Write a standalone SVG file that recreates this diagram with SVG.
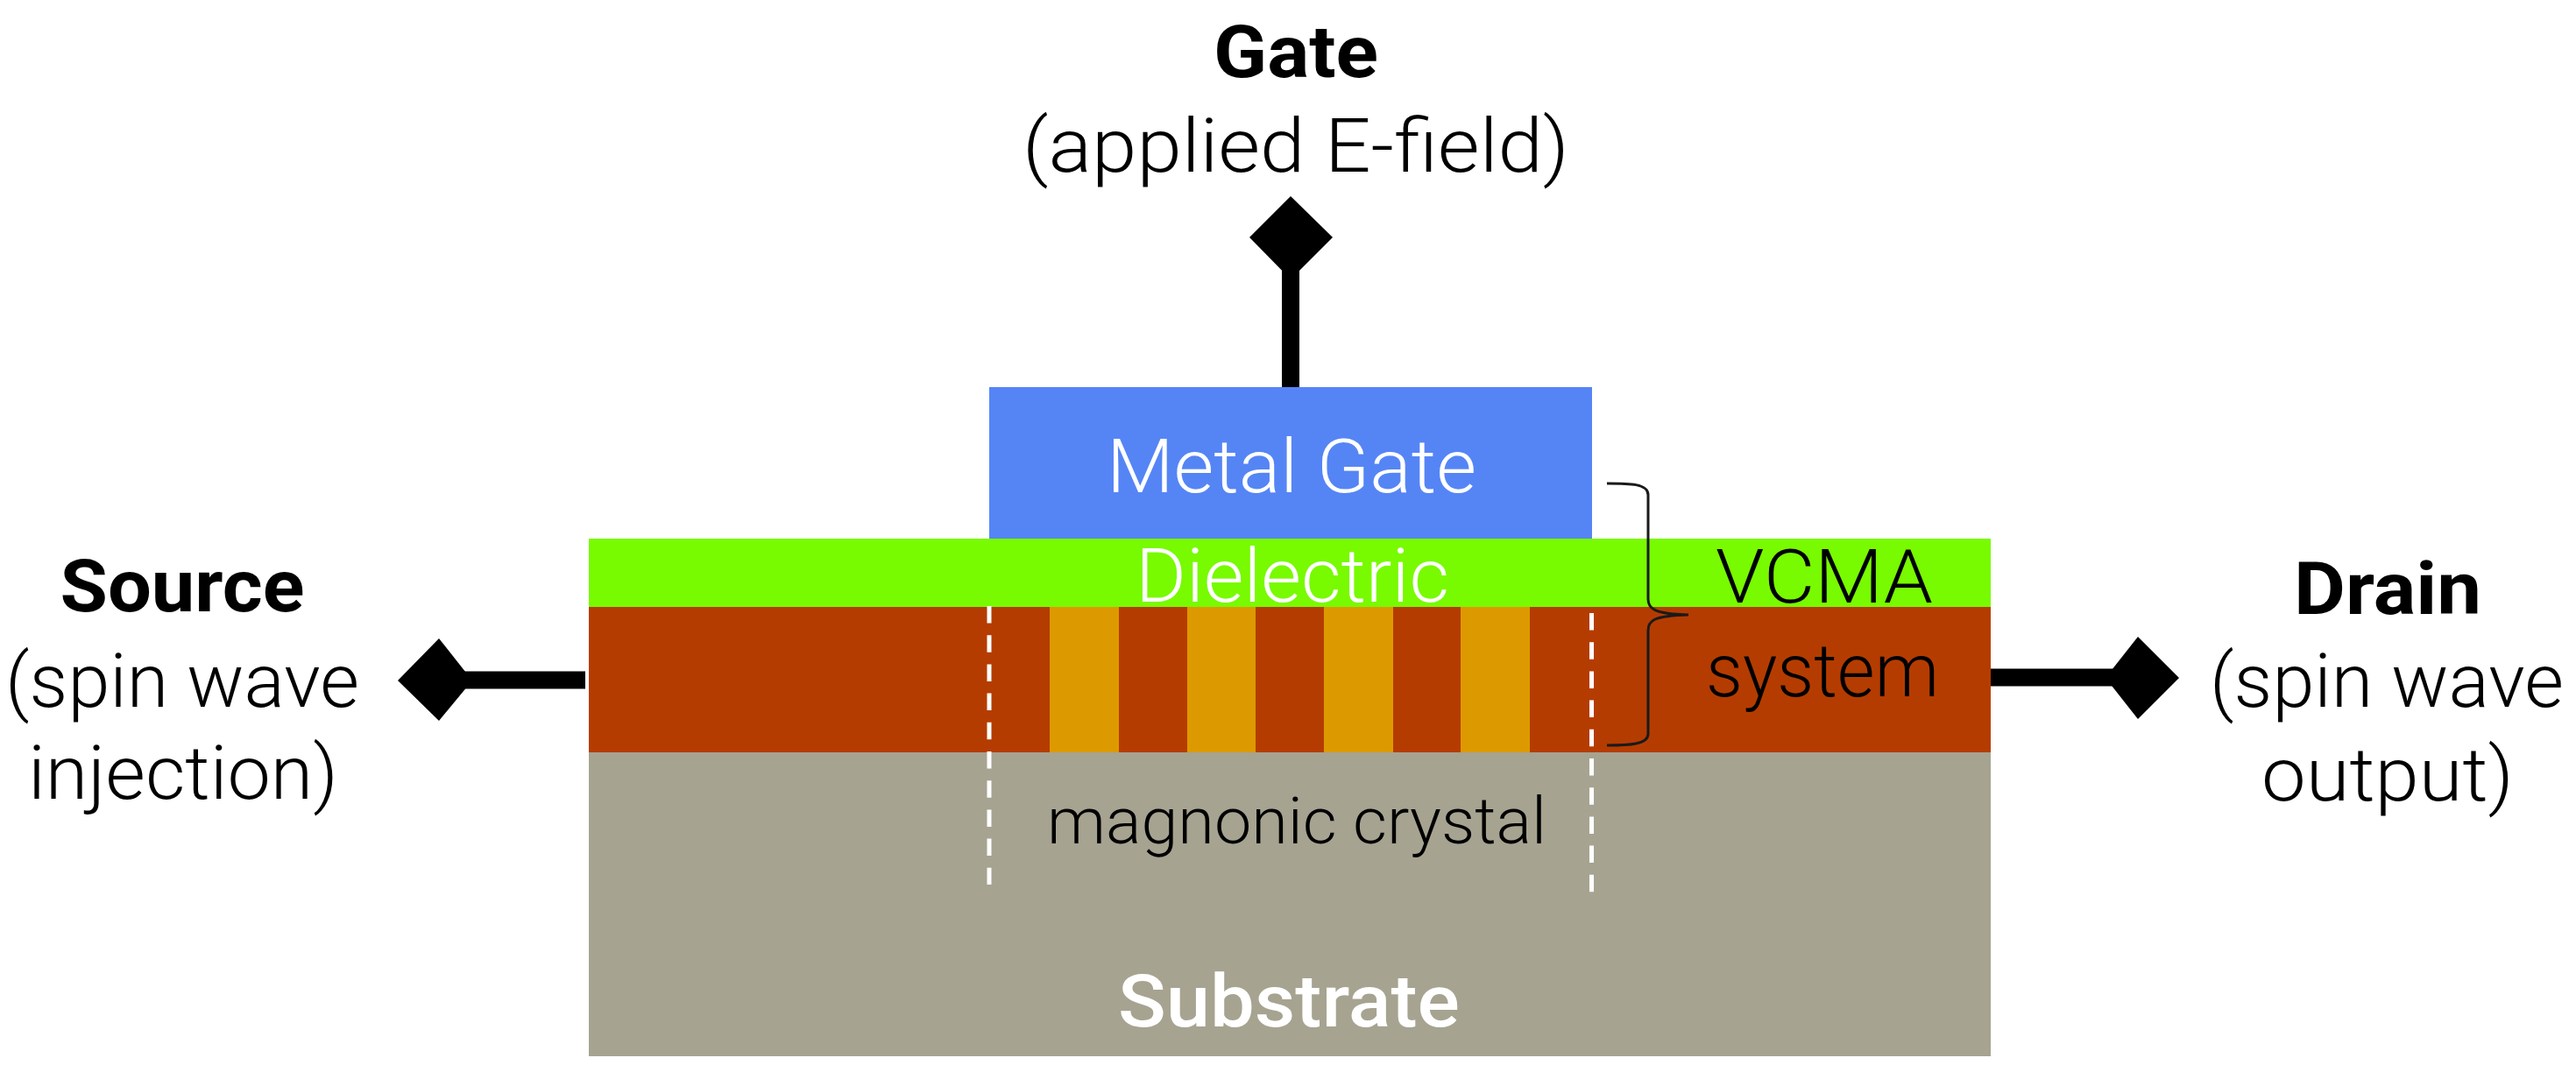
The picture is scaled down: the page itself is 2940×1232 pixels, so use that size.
<svg xmlns="http://www.w3.org/2000/svg" width="2940" height="1232" viewBox="0 0 2940 1232">
<style>
text{font-family:Roboto,"Liberation Sans",sans-serif;font-weight:300;font-size:86px;fill:#000;text-anchor:middle}
.b{font-weight:700;font-size:84px}
.m{font-weight:500;font-size:84px}
.s{font-size:74px}
.w{fill:#fff}
.dash{stroke:#fff;stroke-width:5;stroke-dasharray:19.5 13.7;fill:none}
.lead{stroke:#000;stroke-width:20;fill:none}
.br{stroke:#1a1a1a;stroke-width:3;fill:none}
</style>
<rect width="2940" height="1232" fill="#fff"/>
<g id="substrate"><rect x="672" y="859" width="1600" height="347" fill="#A6A391"/><text class="m w" x="1471" y="1172" textLength="390" lengthAdjust="spacingAndGlyphs">Substrate</text></g>
<g id="magnetic-layer"><rect x="672" y="693" width="1600" height="166" fill="#B53C00"/>
<rect x="1198" y="693" width="79" height="166" fill="#DD9A00"/><rect x="1355" y="693" width="78" height="166" fill="#DD9A00"/><rect x="1511" y="693" width="79" height="166" fill="#DD9A00"/><rect x="1667" y="693" width="79" height="166" fill="#DD9A00"/></g>
<g id="dielectric"><rect x="672" y="615" width="1600" height="78" fill="#78FA00"/><text class="w" x="1475" y="687" textLength="358" lengthAdjust="spacingAndGlyphs">Dielectric</text></g>
<g id="metal-gate"><rect x="1129" y="442" width="688" height="173" fill="#5585F5"/><text class="w" x="1474" y="562" textLength="422" lengthAdjust="spacingAndGlyphs">Metal Gate</text></g>
<g id="connectors">
<path class="lead" d="M1473 290V442M510 776.5H668M2272 773.5H2430"/>
<path d="M1473 224L1521 271L1473 319L1426 271Z" fill="#000"/>
<path d="M501 729L539 777L501 823L454 777Z" fill="#000"/>
<path d="M2440 727L2487 774L2440 821L2403 774Z" fill="#000"/>
<path class="dash" d="M1129 692V1010M1816.5 700V1019"/>
<path class="br" d="M1834 552C1860 552 1881 552 1881 565V684C1881 694 1886 701 1927 702C1886 703 1881 709 1881 720V838C1881 850 1860 851 1834 851"/>
</g>
<g id="label-gate"><text class="b" x="1479" y="88" textLength="188" lengthAdjust="spacingAndGlyphs">Gate</text><text x="1479" y="196" textLength="624" lengthAdjust="spacingAndGlyphs">(applied E-field)</text></g>
<g id="label-source"><text class="b" x="208" y="698" textLength="279" lengthAdjust="spacingAndGlyphs">Source</text><text x="208" y="807" textLength="404" lengthAdjust="spacingAndGlyphs">(spin wave</text><text x="209" y="912" textLength="354" lengthAdjust="spacingAndGlyphs">injection)</text></g>
<g id="label-drain"><text class="b" x="2725" y="701" textLength="214" lengthAdjust="spacingAndGlyphs">Drain</text><text x="2724" y="807" textLength="404" lengthAdjust="spacingAndGlyphs">(spin wave</text><text x="2725" y="914" textLength="288" lengthAdjust="spacingAndGlyphs">output)</text></g>
<g id="label-vcma"><text x="2082" y="688" textLength="248" lengthAdjust="spacingAndGlyphs">VCMA</text><text x="2080" y="795" textLength="266" lengthAdjust="spacingAndGlyphs">system</text></g>
<g id="label-crystal"><text class="s" x="1480" y="963" textLength="570" lengthAdjust="spacingAndGlyphs">magnonic crystal</text></g>
</svg>
